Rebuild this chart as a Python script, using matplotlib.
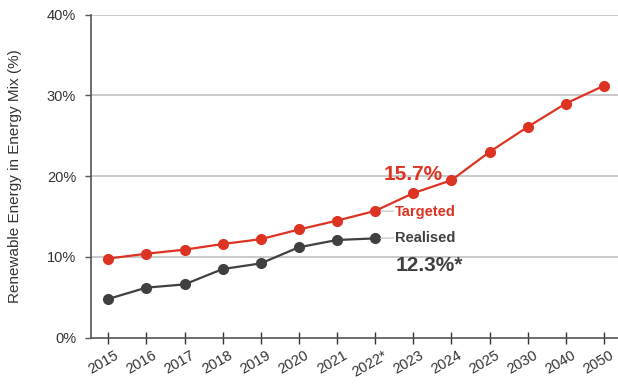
import matplotlib
matplotlib.use("Agg")
from matplotlib import pyplot as plt
import matplotlib.transforms as mtrans
import numpy as np

plt.rcParams['font.family'] = ['Liberation Sans', 'DejaVu Sans']

# data
years = ['2015', '2016', '2017', '2018', '2019', '2020', '2021', '2022*',
         '2023', '2024', '2025', '2030', '2040', '2050']
targeted = [9.8, 10.4, 10.9, 11.6, 12.2, 13.4, 14.5, 15.7, 17.9, 19.5, 23.0, 26.1, 29.0, 31.2]
realised = [4.8, 6.2, 6.6, 8.5, 9.2, 11.2, 12.1, 12.3]

red = '#dd3322'
dark = '#404040'

fig = plt.figure(figsize=(6.18, 3.87), dpi=100)
ax = fig.add_axes([0.1468, 0.1274, 0.8532, 0.8346])

x = np.arange(len(years))
xr = np.arange(len(realised))

# gridlines
for g in [10, 20, 30, 40]:
    ax.axhline(g, color='#bbbbbb', lw=1.1, zorder=0)

ax.plot(x, targeted, color=red, lw=1.6, marker='o', ms=7, zorder=3)
ax.plot(xr, realised, color=dark, lw=1.6, marker='o', ms=7, zorder=3)

ax.set_xlim(-0.46, 13.37)
ax.set_ylim(0, 40)
ax.set_xticks(x)
ax.set_xticklabels(years, rotation=30, ha='center', fontsize=10.5, color='#333333')
ax.set_yticks([0, 10, 20, 30, 40])
ax.set_yticklabels(['0%', '10%', '20%', '30%', '40%'], fontsize=10.5, color='#333333')
ax.tick_params(axis='x', direction='inout', length=9, width=1, color='#333333', pad=3)
ax.tick_params(axis='y', direction='out', length=4.5, width=1, color='#555555', pad=6)

# nudge the rotated year labels a bit to the left
shift = mtrans.ScaledTranslation(-5 / 100, 0, fig.dpi_scale_trans)
for lab in ax.get_xticklabels():
    lab.set_transform(lab.get_transform() + shift)

for s in ['top', 'right']:
    ax.spines[s].set_visible(False)
for s in ['left', 'bottom']:
    ax.spines[s].set_color('#555555')
    ax.spines[s].set_linewidth(1.2)

ax.set_ylabel('Renewable Energy in Energy Mix (%)', fontsize=11, color='#333333')
ax.yaxis.set_label_coords(-0.13, 0.5)

# series labels with short leader lines
ax.annotate('Targeted', xy=(7, targeted[7]), xytext=(7.52, 15.6), fontsize=10.5,
            fontweight='bold', color=red, va='center', ha='left',
            bbox=dict(boxstyle='square,pad=0.1', fc='white', ec='none'),
            arrowprops=dict(arrowstyle='-', color='#cccccc', lw=1, shrinkA=0, shrinkB=4))
ax.annotate('Realised', xy=(7, realised[7]), xytext=(7.52, 12.4), fontsize=10.5,
            fontweight='bold', color=dark, va='center', ha='left',
            bbox=dict(boxstyle='square,pad=0.1', fc='white', ec='none'),
            arrowprops=dict(arrowstyle='-', color='#cccccc', lw=1, shrinkA=0, shrinkB=4))

ax.text(8.0, 20.2, '15.7%', fontsize=15, fontweight='bold', color=red,
        ha='center', va='center')
ax.text(7.55, 9.0, '12.3%*', fontsize=15, fontweight='bold', color=dark,
        ha='left', va='center')

fig.savefig('out.png', dpi=100)
